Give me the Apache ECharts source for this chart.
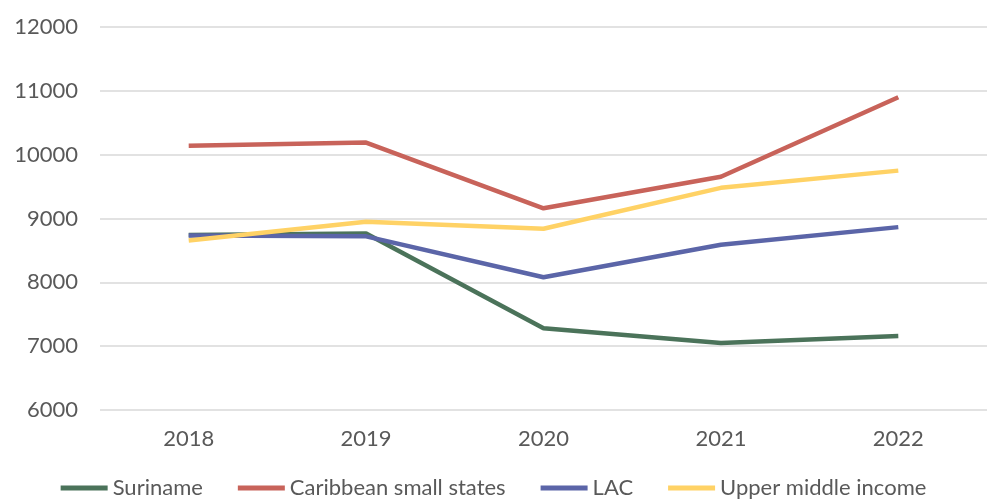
<!DOCTYPE html>
<html><head><meta charset="utf-8">
<script src="https://cdn.jsdelivr.net/npm/echarts@6/dist/echarts.min.js"></script>
<style>html,body{margin:0;padding:0;background:#fff}#c{width:987px;height:504px}</style>
</head><body><div id="c"></div>
<script>
const years = ['2018','2019','2020','2021','2022'];
const suriname = [8740, 8765, 7280, 7050, 7160];
const caribbean = [10140, 10190, 9160, 9655, 10900];
const lac = [8735, 8720, 8080, 8590, 8865];
const upperMiddle = [8655, 8950, 8840, 9480, 9750];
const seriesNames = ['Suriname','Caribbean small states','LAC','Upper middle income'];
const colors = ['#4B735A','#C8635A','#5B65A8','#FFD265'];
const FONT = "Lato, 'Open Sans', sans-serif";
const chart = echarts.init(document.getElementById('c'));
const data = [suriname, caribbean, lac, upperMiddle];
chart.setOption({
  animation:false,
  color: colors,
  grid:{left:100, right:-9, top:27, bottom:94},
  xAxis:{type:'category', data:years, boundaryGap:true,
    axisLine:{show:false}, axisTick:{show:false},
    axisLabel:{color:'#595959', fontSize:22, fontFamily:FONT, margin:18}},
  yAxis:{type:'value', min:6000, max:12000, interval:1000,
    axisLine:{show:false}, axisTick:{show:false},
    splitLine:{lineStyle:{color:'#D9D9D9', width:1.5}},
    axisLabel:{color:'#595959', fontSize:22, fontFamily:FONT, margin:22, formatter:v=>String(v)}},
  legend:{bottom:0, left:'center', itemWidth:47, itemHeight:5, itemGap:35, icon:'rect',
    textStyle:{color:'#595959', fontSize:22, fontFamily:FONT},
    data:seriesNames},
  series: seriesNames.map((n,i)=>({name:n, type:'line', data:data[i], symbol:'none',
    lineStyle:{width:4.5, color:colors[i]}, itemStyle:{color:colors[i]}}))
});
</script></body></html>
